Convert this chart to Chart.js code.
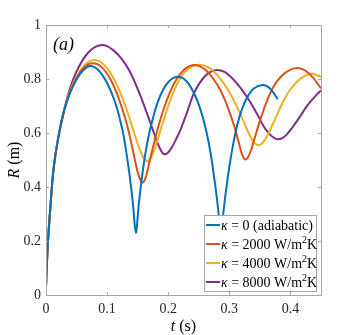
<!DOCTYPE html>
<html>
<head>
<meta charset="utf-8">
<script src="https://cdn.jsdelivr.net/npm/chart.js@4/dist/chart.umd.min.js"></script>
<style>
body { margin: 0; background: #fff; }
</style>
</head>
<body>
<canvas id="chart" width="354" height="335"></canvas>
<script>
// R(t) curves, one pair of arrays per kappa
const tAdiabatic = [0, 0.003, 0.007, 0.012, 0.02, 0.03, 0.04, 0.05, 0.06, 0.07, 0.08, 0.09, 0.1, 0.108, 0.115, 0.121, 0.127, 0.132, 0.137, 0.142, 0.147,
    0.152, 0.157, 0.162, 0.168, 0.175, 0.183, 0.192, 0.2, 0.208, 0.217, 0.226, 0.234, 0.242, 0.25, 0.257, 0.263, 0.269, 0.274, 0.279, 0.283, 0.286,
    0.29, 0.295, 0.3, 0.306, 0.313, 0.321, 0.33, 0.34, 0.354, 0.364, 0.372, 0.379];
const rAdiabatic = [0.03, 0.19, 0.32, 0.46, 0.58, 0.685, 0.752, 0.798, 0.83, 0.847, 0.843, 0.822, 0.785, 0.745, 0.7, 0.65, 0.59, 0.52, 0.44, 0.345, 0.23,
    0.34, 0.435, 0.515, 0.59, 0.655, 0.715, 0.762, 0.788, 0.803, 0.808, 0.8, 0.78, 0.748, 0.705, 0.655, 0.6, 0.53, 0.455, 0.37, 0.29, 0.21,
    0.3, 0.395, 0.475, 0.555, 0.63, 0.69, 0.735, 0.765, 0.778, 0.77, 0.75, 0.725];

const t2000 = [0, 0.003, 0.007, 0.012, 0.02, 0.03, 0.04, 0.05, 0.06, 0.07, 0.078, 0.088, 0.098, 0.108, 0.117, 0.125, 0.132, 0.139, 0.145, 0.15, 0.154, 0.158,
    0.162, 0.166, 0.171, 0.177, 0.184, 0.192, 0.2, 0.21, 0.22, 0.23, 0.241, 0.252, 0.263, 0.274, 0.285, 0.295, 0.303, 0.31, 0.316, 0.321, 0.326,
    0.331, 0.336, 0.342, 0.35, 0.36, 0.372, 0.385, 0.4, 0.414, 0.425, 0.437, 0.45];
const r2000 = [0.03, 0.19, 0.32, 0.46, 0.58, 0.685, 0.755, 0.803, 0.837, 0.855, 0.858, 0.85, 0.826, 0.788, 0.74, 0.688, 0.635, 0.57, 0.505, 0.455, 0.428, 0.416,
    0.428, 0.46, 0.51, 0.565, 0.625, 0.685, 0.735, 0.785, 0.82, 0.842, 0.852, 0.847, 0.83, 0.8, 0.76, 0.71, 0.66, 0.61, 0.56, 0.52, 0.502,
    0.512, 0.54, 0.585, 0.645, 0.71, 0.77, 0.81, 0.835, 0.84, 0.83, 0.805, 0.765];

const t4000 = [0, 0.003, 0.007, 0.012, 0.02, 0.03, 0.04, 0.05, 0.06, 0.07, 0.08, 0.09, 0.1, 0.11, 0.12, 0.13, 0.138, 0.145, 0.152, 0.158, 0.163, 0.167,
    0.171, 0.176, 0.182, 0.19, 0.2, 0.21, 0.22, 0.23, 0.242, 0.255, 0.268, 0.28, 0.292, 0.303, 0.313, 0.322, 0.33, 0.337, 0.343, 0.349,
    0.355, 0.362, 0.37, 0.38, 0.39, 0.4, 0.412, 0.424, 0.436, 0.45];
const r4000 = [0.03, 0.19, 0.32, 0.46, 0.58, 0.688, 0.76, 0.808, 0.843, 0.864, 0.87, 0.862, 0.84, 0.805, 0.758, 0.7, 0.645, 0.595, 0.548, 0.515, 0.499, 0.496,
    0.505, 0.53, 0.57, 0.63, 0.7, 0.76, 0.804, 0.832, 0.849, 0.852, 0.84, 0.815, 0.78, 0.74, 0.695, 0.65, 0.608, 0.576, 0.559, 0.555,
    0.565, 0.59, 0.627, 0.678, 0.725, 0.762, 0.793, 0.812, 0.819, 0.808];

const t8000 = [0, 0.003, 0.007, 0.012, 0.02, 0.03, 0.04, 0.05, 0.06, 0.07, 0.08, 0.091, 0.1, 0.11, 0.12, 0.13, 0.14, 0.15, 0.16, 0.168, 0.175, 0.181, 0.186, 0.19, 0.194,
    0.199, 0.205, 0.213, 0.22, 0.23, 0.241, 0.25, 0.26, 0.27, 0.28, 0.292, 0.305, 0.318, 0.332, 0.345, 0.355, 0.363, 0.37, 0.378,
    0.386, 0.395, 0.405, 0.416, 0.428, 0.44, 0.45];
const r8000 = [0.03, 0.19, 0.32, 0.46, 0.585, 0.69, 0.77, 0.828, 0.87, 0.9, 0.918, 0.926, 0.922, 0.907, 0.885, 0.855, 0.815, 0.763, 0.705, 0.655, 0.61, 0.572, 0.545, 0.528, 0.521,
    0.526, 0.543, 0.578, 0.612, 0.672, 0.742, 0.78, 0.81, 0.827, 0.833, 0.826, 0.802, 0.768, 0.722, 0.672, 0.63, 0.603, 0.587, 0.577,
    0.58, 0.597, 0.626, 0.662, 0.703, 0.735, 0.758];

const seriesNames = ['0 (adiabatic)', '2000', '4000', '8000'];
const seriesColors = ['#0072BD', '#D95319', '#EDB120', '#7E2F8E'];

const xTicks = [0, 0.1, 0.2, 0.3, 0.4];
const yTicks = [0, 0.2, 0.4, 0.6, 0.8, 1];

const SERIF = '"Liberation Serif", "DejaVu Serif", serif';
const AXIS_GREY = '#a6a6a6';

function toPoints(ts, rs) {
    return ts.map((t, i) => ({ x: t, y: rs[i] }));
}

const allT = [tAdiabatic, t2000, t4000, t8000];
const allR = [rAdiabatic, r2000, r4000, r8000];

const datasets = seriesNames.map((name, i) => ({
    label: name,
    data: toPoints(allT[i], allR[i]),
    borderColor: seriesColors[i],
    borderWidth: 2,
    pointRadius: 0,
    fill: false,
    tension: 0.3
}));

// box, inward ticks, axis titles, panel label and legend in the MATLAB style
const decorations = {
    id: 'decorations',
    afterDraw(chart) {
        const ctx = chart.ctx;
        const a = chart.chartArea;
        const xs = chart.scales.x;
        const ys = chart.scales.y;
        ctx.save();

        // box
        ctx.strokeStyle = AXIS_GREY;
        ctx.lineWidth = 1;
        ctx.beginPath();
        ctx.moveTo(a.left + 0.5, a.bottom + 0.5);
        ctx.lineTo(a.left + 0.5, a.top + 0.5);
        ctx.lineTo(a.right + 0.5, a.top + 0.5);
        ctx.lineTo(a.right + 0.5, a.bottom + 0.5);
        ctx.lineTo(a.left + 0.5, a.bottom + 0.5);
        ctx.stroke();

        // inward ticks
        const len = 3;
        ctx.beginPath();
        xTicks.forEach(v => {
            const px = Math.round(xs.getPixelForValue(v)) + 0.5;
            ctx.moveTo(px, a.bottom); ctx.lineTo(px, a.bottom - len);
            ctx.moveTo(px, a.top); ctx.lineTo(px, a.top + len);
        });
        yTicks.forEach(v => {
            const py = Math.round(ys.getPixelForValue(v)) + 0.5;
            ctx.moveTo(a.left, py); ctx.lineTo(a.left + len, py);
            ctx.moveTo(a.right, py); ctx.lineTo(a.right - len, py);
        });
        ctx.stroke();

        // panel label
        ctx.fillStyle = '#000';
        ctx.font = 'italic 18px ' + SERIF;
        ctx.textBaseline = 'alphabetic';
        ctx.textAlign = 'left';
        ctx.fillText('(a)', 53, 50);

        // x title: t (s)
        ctx.font = 'italic 16px ' + SERIF;
        const tW = ctx.measureText('t').width;
        ctx.font = '16px ' + SERIF;
        const sW = ctx.measureText(' (s)').width;
        let x0 = (a.left + a.right) / 2 - (tW + sW) / 2;
        ctx.font = 'italic 16px ' + SERIF;
        ctx.fillText('t', x0, 331);
        ctx.font = '16px ' + SERIF;
        ctx.fillText(' (s)', x0 + tW, 331);

        // y title: R (m)
        ctx.save();
        ctx.translate(19, (a.top + a.bottom) / 2);
        ctx.rotate(-Math.PI / 2);
        ctx.font = 'italic 16px ' + SERIF;
        const rW = ctx.measureText('R').width;
        ctx.font = '16px ' + SERIF;
        const mW = ctx.measureText(' (m)').width;
        x0 = -(rW + mW) / 2;
        ctx.font = 'italic 16px ' + SERIF;
        ctx.fillText('R', x0, 0);
        ctx.font = '16px ' + SERIF;
        ctx.fillText(' (m)', x0 + rW, 0);
        ctx.restore();

        // legend
        const lx = 204, ly = 215, lw = 112, lh = 76;
        ctx.fillStyle = '#fff';
        ctx.fillRect(lx, ly, lw, lh);
        ctx.strokeStyle = AXIS_GREY;
        ctx.strokeRect(lx + 0.5, ly + 0.5, lw, lh);
        const rowY = [225, 244, 263, 282];
        seriesNames.forEach((name, i) => {
            const y = rowY[i];
            ctx.strokeStyle = seriesColors[i];
            ctx.lineWidth = 2;
            ctx.beginPath();
            ctx.moveTo(206, y);
            ctx.lineTo(220, y);
            ctx.stroke();
            ctx.fillStyle = '#000';
            ctx.textBaseline = 'middle';
            let x = 221;
            ctx.font = 'italic 14px ' + SERIF;
            ctx.fillText('\u03BA', x, y + 1);
            x += ctx.measureText('\u03BA').width;
            ctx.font = '14px ' + SERIF;
            if (i === 0) {
                ctx.fillText(' = ' + name, x, y + 1);
            } else {
                const main = ' = ' + name + ' W/m';
                ctx.fillText(main, x, y + 1);
                x += ctx.measureText(main).width;
                ctx.font = '10px ' + SERIF;
                ctx.fillText('2', x, y - 4);
                x += ctx.measureText('2').width;
                ctx.font = '14px ' + SERIF;
                ctx.fillText('K', x, y + 1);
            }
        });

        ctx.restore();
    }
};

new Chart(document.getElementById('chart'), {
    type: 'line',
    data: { datasets: datasets },
    options: {
        responsive: false,
        animation: false,
        layout: { padding: { top: 25, right: 33, left: 0, bottom: 0 } },
        plugins: {
            legend: { display: false },
            tooltip: { enabled: false }
        },
        scales: {
            x: {
                type: 'linear',
                min: 0,
                max: 0.45,
                afterBuildTicks: (s) => { s.ticks = xTicks.map(v => ({ value: v })); },
                afterFit: (s) => { s.height = 40; },
                grid: { display: false, drawTicks: false },
                border: { display: false },
                ticks: {
                    color: '#262626',
                    font: { family: SERIF, size: 14 },
                    padding: 6,
                    maxRotation: 0,
                    callback: (v) => String(Math.round(v * 10) / 10)
                }
            },
            y: {
                type: 'linear',
                min: 0,
                max: 1,
                afterBuildTicks: (s) => { s.ticks = yTicks.map(v => ({ value: v })); },
                afterFit: (s) => { s.width = 46; },
                grid: { display: false, drawTicks: false },
                border: { display: false },
                ticks: {
                    color: '#262626',
                    font: { family: SERIF, size: 14 },
                    padding: 5,
                    callback: (v) => String(Math.round(v * 10) / 10)
                }
            }
        }
    },
    plugins: [decorations]
});
</script>
</body>
</html>
